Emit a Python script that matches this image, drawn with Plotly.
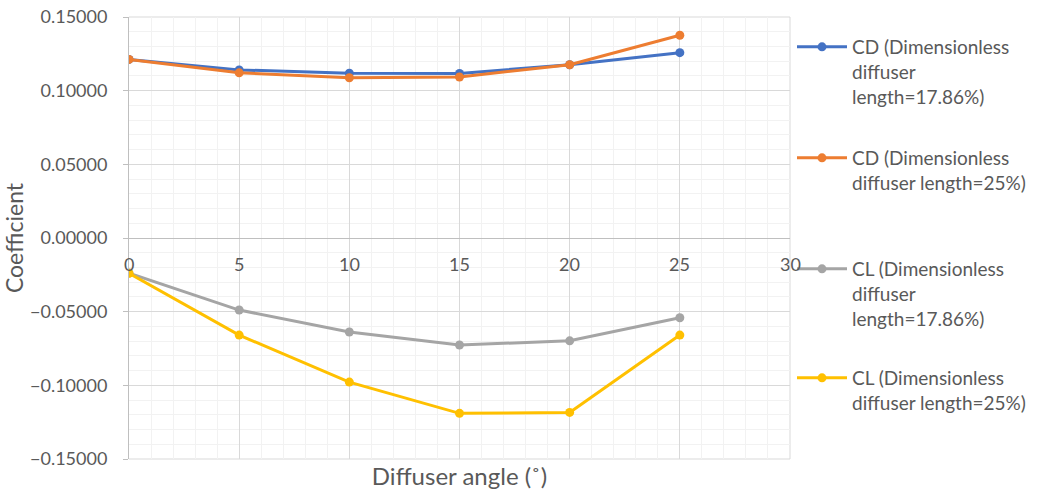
import plotly.graph_objects as go

# Diffuser angle (degrees)
angle = [0, 5, 10, 15, 20, 25]

# Drag and lift coefficients for two dimensionless diffuser lengths
cd_1786 = [0.1212, 0.1141, 0.1119, 0.1117, 0.1176, 0.1258]
cd_25 = [0.1212, 0.1121, 0.1088, 0.1093, 0.1176, 0.1376]
cl_1786 = [-0.0238, -0.0489, -0.0638, -0.0726, -0.0698, -0.0541]
cl_25 = [-0.0240, -0.0659, -0.0978, -0.1190, -0.1184, -0.0659]

x_ticks = [0, 5, 10, 15, 20, 25, 30]

names = [
    "CD (Dimensionless<br>diffuser<br>length=17.86%)",
    "CD (Dimensionless<br>diffuser length=25%)",
    "CL (Dimensionless<br>diffuser<br>length=17.86%)",
    "CL (Dimensionless<br>diffuser length=25%)",
]
series = [cd_1786, cd_25, cl_1786, cl_25]
colors = ["#4472C4", "#ED7D31", "#A5A5A5", "#FFC000"]
legend_ids = ["legend", "legend2", "legend3", "legend4"]
legend_tops = [28, 139, 250, 359]

FONT = "Lato"
TXT = "#595959"
W, H = 1040, 494

fig = go.Figure()
for name, ys, col, lg in zip(names, series, colors, legend_ids):
    fig.add_trace(go.Scatter(
        x=angle, y=ys, name=name, mode="lines+markers",
        line=dict(color=col, width=3),
        marker=dict(color=col, size=9),
        legend=lg, showlegend=True,
    ))

legend_common = dict(
    xref="container", yref="container", xanchor="left", yanchor="top",
    font=dict(family=FONT, size=19, color=TXT), valign="top",
    bgcolor="rgba(0,0,0,0)", itemwidth=50, visible=True,
)
legend_layout = {}
for lg, top in zip(legend_ids, legend_tops):
    legend_layout[lg] = dict(legend_common, x=792 / W, y=1 - top / H)

# x tick labels sit along the y = 0 line
annotations = [
    dict(x=v, y=0, xref="x", yref="y", text=str(v), showarrow=False,
         yanchor="top", yshift=-13, font=dict(family=FONT, size=18, color=TXT))
    for v in x_ticks
]

# light frame on the top, right and bottom edges of the plot area
frame = [
    dict(type="line", xref="paper", yref="paper", x0=0, x1=1, y0=1, y1=1,
         line=dict(color="#D9D9D9", width=1), layer="below"),
    dict(type="line", xref="paper", yref="paper", x0=1, x1=1, y0=0, y1=1,
         line=dict(color="#D9D9D9", width=1), layer="below"),
    dict(type="line", xref="paper", yref="paper", x0=0, x1=1, y0=0, y1=0,
         line=dict(color="#D9D9D9", width=1), layer="below"),
]

fig.update_layout(
    width=W, height=H,
    margin=dict(l=129, r=250, t=17, b=35, autoexpand=False),
    paper_bgcolor="white", plot_bgcolor="white",
    font=dict(family=FONT, size=18, color=TXT),
    showlegend=True,
    annotations=annotations,
    shapes=frame,
    **legend_layout,
)

fig.update_xaxes(
    range=[0, 30], dtick=5, tick0=0, showticklabels=False,
    showgrid=True, gridcolor="#D9D9D9", gridwidth=1,
    minor=dict(dtick=1, showgrid=True, gridcolor="#F2F2F2", gridwidth=1),
    zeroline=False, showline=False, automargin=False,
    title=dict(text="Diffuser angle (˚)", standoff=9,
               font=dict(family=FONT, size=24, color=TXT)),
)
fig.update_yaxes(
    range=[-0.15, 0.15], dtick=0.05, tick0=0, tickformat=".5f",
    showgrid=True, gridcolor="#D9D9D9", gridwidth=1,
    minor=dict(dtick=0.01, showgrid=True, gridcolor="#F2F2F2", gridwidth=1),
    zeroline=True, zerolinecolor="#BFBFBF", zerolinewidth=1,
    showline=True, linecolor="#BFBFBF", linewidth=1,
    ticks="outside", ticklen=5, tickcolor="#BFBFBF", ticklabelstandoff=12,
    tickfont=dict(family=FONT, size=18, color=TXT), automargin=False,
    title=dict(text="Coefficient", standoff=8,
               font=dict(family=FONT, size=23, color=TXT)),
)

fig.write_html("out.html")
